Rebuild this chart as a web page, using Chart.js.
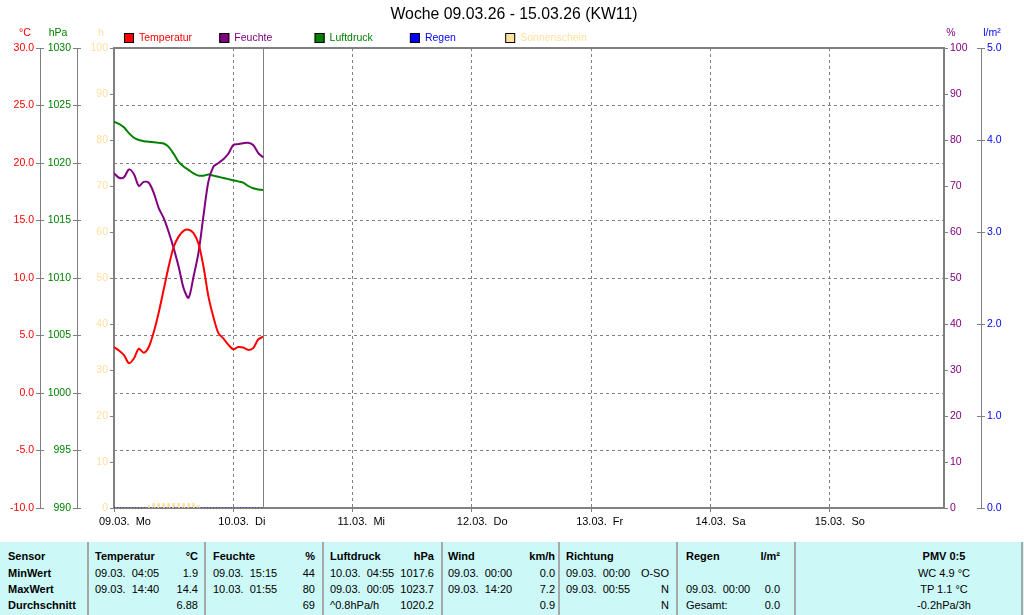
<!DOCTYPE html>
<html>
<head>
<meta charset="utf-8">
<script src="https://cdn.jsdelivr.net/npm/chart.js@4.4.1/dist/chart.umd.min.js"></script>
<style>
  body { margin: 0; background: #fff; width: 1024px; height: 615px; overflow: hidden; font-family: "Liberation Sans", Arial, sans-serif; }
  #wrap { position: absolute; left: 0; top: 0; width: 1024px; height: 542px; }
  #stats { position: absolute; left: 0; top: 542px; width: 1024px; height: 73px; background: #ccf8f8; font-size: 11px; color: #000; }
  .sep { position: absolute; top: 0; width: 2px; height: 73px; background: #a8a8a8; }
  .cell { position: absolute; white-space: pre; line-height: 16px; }
  .b { font-weight: bold; }
</style>
</head>
<body>
<div id="wrap"><canvas id="chart"></canvas></div>
<div id="stats"></div>
<script>
// --- Data (hours since 09.03. 00:00) ---
const hours = [0, 1, 2, 3, 4, 5, 6, 7, 8, 9, 10, 11, 12, 13, 14, 15, 16, 17, 18, 19, 20, 21, 22, 23, 24, 25, 26, 27, 28, 29, 30];
const temperature = [4.0, 3.7, 3.3, 2.6, 3.0, 3.85, 3.5, 4.0, 5.3, 7.0, 9.0, 11.0, 12.7, 13.6, 14.1, 14.2, 13.9, 13.0, 11.0, 8.4, 6.6, 5.2, 4.75, 4.2, 3.8, 4.0, 3.95, 3.75, 3.9, 4.65, 4.9];
const humidity = [72.8, 71.8, 71.9, 73.6, 72.6, 70.0, 70.9, 70.7, 68.5, 65.2, 63.0, 60.0, 56.5, 52.5, 47.8, 45.7, 50.3, 55.5, 63.5, 71.0, 74.2, 75.0, 75.8, 77.0, 78.9, 79.1, 79.3, 79.4, 78.9, 77.2, 76.2];
const pressure = [1023.6, 1023.4, 1023.1, 1022.6, 1022.2, 1022.0, 1021.9, 1021.85, 1021.8, 1021.75, 1021.7, 1021.4, 1020.8, 1020.1, 1019.7, 1019.4, 1019.1, 1018.9, 1018.9, 1019.0, 1018.9, 1018.8, 1018.7, 1018.6, 1018.5, 1018.4, 1018.3, 1018.0, 1017.8, 1017.7, 1017.65];
const rain = [0, 0, 0, 0, 0, 0, 0, 0, 0, 0, 0, 0, 0, 0, 0, 0, 0, 0, 0, 0, 0, 0, 0, 0, 0, 0, 0, 0, 0, 0, 0];
const sunHours = [7, 8, 9, 10, 11, 12, 13, 14, 15, 16, 17];
const sunshine = [0.5, 1, 1, 1, 1, 1, 1, 1, 1, 1, 0.5];
const lastHour = 30;

const dayTicks = [0, 24, 48, 72, 96, 120, 144];
const dayLabels = ['09.03.  Mo', '10.03.  Di', '11.03.  Mi', '12.03.  Do', '13.03.  Fr', '14.03.  Sa', '15.03.  So'];
const chartTitle = 'Woche 09.03.26 - 15.03.26 (KW11)';

const C_TEMP = '#ff0000', C_HUM = '#800080', C_PRES = '#008000', C_RAIN = '#0000ff', C_SUN = '#ffe0a0';
const GRID = '#808080';

const xy = (xs, ys) => xs.map((x, i) => ({ x: x, y: ys[i] }));

// --- Decorations: frame, title, legend, unit labels ---
const decor = {
    id: 'decor',
    beforeDatasetsDraw(chart) {
        const { ctx, chartArea: a, scales } = chart;
        ctx.save();
        ctx.strokeStyle = GRID;
        ctx.lineWidth = 1;
        const xn = Math.round(scales.x.getPixelForValue(lastHour)) + 0.5;
        ctx.beginPath(); ctx.moveTo(xn, a.top); ctx.lineTo(xn, a.bottom); ctx.stroke();
        const vline = (x) => { ctx.beginPath(); ctx.moveTo(x + 0.5, a.top); ctx.lineTo(x + 0.5, a.bottom); ctx.stroke(); };
        vline(Math.round(scales.yT.right) - 4);
        vline(Math.round(scales.yP.right) - 4);
        vline(Math.round(scales.yR.left) + 4);
        ctx.lineWidth = 2;
        ctx.strokeRect(a.left, a.top, a.right - a.left, a.bottom - a.top);
        ctx.restore();
    },
    afterDraw(chart) {
        const { ctx } = chart;
        ctx.save();
        ctx.textBaseline = 'middle';
        ctx.textAlign = 'center';
        ctx.fillStyle = '#000';
        ctx.font = '15.8px "Liberation Sans", Arial, sans-serif';
        ctx.fillText(chartTitle, 514, 15);

        ctx.font = '10.5px "Liberation Sans", Arial, sans-serif';
        const units = [['°C', 25, C_TEMP], ['hPa', 58, C_PRES], ['h', 101, C_SUN], ['%', 951, C_HUM], ['l/m²', 992, C_RAIN]];
        units.forEach(([t, x, c]) => { ctx.fillStyle = c; ctx.fillText(t, x, 33); });

        ctx.textAlign = 'left';
        chart.data.datasets.forEach((ds, i) => {
            const x = 124 + i * 95.3;
            ctx.fillStyle = ds.legendColor;
            ctx.fillRect(x, 33, 10, 10);
            ctx.strokeStyle = '#000';
            ctx.lineWidth = 1;
            ctx.strokeRect(x + 0.5, 33.5, 9, 9);
            ctx.fillText(ds.label, x + 15, 38);
        });
        ctx.restore();
    }
};

const sideAxis = (pos, min, max, step, color, weight, width, tickLen, fmt) => ({
    type: 'linear', position: pos, min: min, max: max, weight: weight,
    afterFit: s => { s.width = width; },
    border: { display: false },
    grid: { drawOnChartArea: false, color: GRID, tickLength: tickLen },
    ticks: { stepSize: step, color: color, padding: 2, callback: fmt }
});

Chart.defaults.font.family = '"Liberation Sans", Arial, sans-serif';
Chart.defaults.font.size = 10.5;

const tempAxis = sideAxis('left', -10, 30, 5, C_TEMP, 2, 44, 8, v => v.toFixed(1));
tempAxis.grid = { drawOnChartArea: true, color: GRID, tickLength: 8, tickBorderDash: [] };
tempAxis.border = { display: false, dash: [3, 3] };

new Chart(document.getElementById('chart'), {
    type: 'line',
    data: {
        datasets: [
            { label: 'Temperatur', data: xy(hours, temperature), yAxisID: 'yT', borderColor: C_TEMP, legendColor: C_TEMP, borderWidth: 2, pointRadius: 0, tension: 0.3 },
            { label: 'Feuchte', data: xy(hours, humidity), yAxisID: 'yH', borderColor: C_HUM, legendColor: C_HUM, borderWidth: 2, pointRadius: 0, tension: 0.3 },
            { label: 'Luftdruck', data: xy(hours, pressure), yAxisID: 'yP', borderColor: C_PRES, legendColor: C_PRES, borderWidth: 2, pointRadius: 0, tension: 0.3 },
            { label: 'Regen', data: xy(hours, rain), yAxisID: 'yR', borderColor: C_RAIN, legendColor: C_RAIN, borderWidth: 1, borderDash: [1, 2], pointRadius: 0 },
            { type: 'bar', label: 'Sonnenschein', data: xy(sunHours, sunshine), yAxisID: 'yS', backgroundColor: C_SUN, legendColor: C_SUN, barThickness: 2, order: 5 }
        ]
    },
    options: {
        responsive: true, maintainAspectRatio: false, animation: false,
        layout: { padding: { top: 48, left: 0, right: 0, bottom: 0 } },
        plugins: { legend: { display: false }, tooltip: { enabled: false } },
        scales: {
            x: {
                type: 'linear', min: 0, max: 167, offset: false,
                afterFit: s => { s.height = 34; },
                afterBuildTicks: s => { s.ticks = dayTicks.map(v => ({ value: v })); },
                border: { display: false, dash: [3, 3] },
                grid: { offset: false, color: GRID, tickLength: 4, tickBorderDash: [] },
                ticks: { color: '#000', font: { size: 11 }, autoSkip: false, maxRotation: 0, align: 'start', labelOffset: -15, padding: 3, callback: (v, i) => dayLabels[i] }
            },
            yT: tempAxis,
            yP: sideAxis('left', 990, 1030, 5, C_PRES, 1, 37, 8, v => String(v)),
            yS: sideAxis('left', 0, 100, 10, C_SUN, 0, 33, 4, v => String(v)),
            yH: sideAxis('right', 0, 100, 10, C_HUM, 0, 33, 4, v => String(v)),
            yR: sideAxis('right', 0, 5, 1, C_RAIN, 1, 47, 8, v => v.toFixed(1))
        }
    },
    plugins: [decor]
});

// --- Statistics table ---
const statRowLabels = ['Sensor', 'MinWert', 'MaxWert', 'Durchschnitt'];
const statCols = [
    { l: 95, r: 198, head: ['Temperatur', '°C'], rows: [['09.03.  04:05', '1.9'], ['09.03.  14:40', '14.4'], ['', '6.88']] },
    { l: 213, r: 315, head: ['Feuchte', '%'], rows: [['09.03.  15:15', '44'], ['10.03.  01:55', '80'], ['', '69']] },
    { l: 330, r: 434, head: ['Luftdruck', 'hPa'], rows: [['10.03.  04:55', '1017.6'], ['09.03.  00:05', '1023.7'], ['^0.8hPa/h', '1020.2']] },
    { l: 448, r: 555, head: ['Wind', 'km/h'], rows: [['09.03.  00:00', '0.0'], ['09.03.  14:20', '7.2'], ['', '0.9']] },
    { l: 566, r: 669, head: ['Richtung', ''], rows: [['09.03.  00:00', 'O-SO'], ['09.03.  00:55', 'N'], ['', 'N']] },
    { l: 686, r: 780, head: ['Regen', 'l/m²'], rows: [['', ''], ['09.03.  00:00', '0.0'], ['Gesamt:', '0.0']] }
];
const statExtra = ['PMV 0:5', 'WC 4.9 °C', 'TP 1.1 °C', '-0.2hPa/3h'];
const statSeps = [87, 204, 322, 441, 558, 676, 794, 1021];
const rowTops = [6, 23, 39, 55];

const stats = document.getElementById('stats');
function addCell(text, style, bold) {
    const d = document.createElement('div');
    d.className = 'cell' + (bold ? ' b' : '');
    d.textContent = text;
    Object.assign(d.style, style);
    stats.appendChild(d);
}
statSeps.forEach(x => {
    const s = document.createElement('div');
    s.className = 'sep';
    s.style.left = x + 'px';
    stats.appendChild(s);
});
statRowLabels.forEach((t, i) => addCell(t, { left: '8px', top: rowTops[i] + 'px' }, true));
statCols.forEach(col => {
    const all = [col.head].concat(col.rows);
    all.forEach((row, i) => {
        addCell(row[0], { left: col.l + 'px', top: rowTops[i] + 'px' }, i === 0);
        addCell(row[1], { right: (1024 - col.r) + 'px', top: rowTops[i] + 'px' }, i === 0);
    });
});
statExtra.forEach((t, i) => addCell(t, { left: '844px', width: '200px', textAlign: 'center', top: rowTops[i] + 'px' }, i === 0));
</script>
</body>
</html>
